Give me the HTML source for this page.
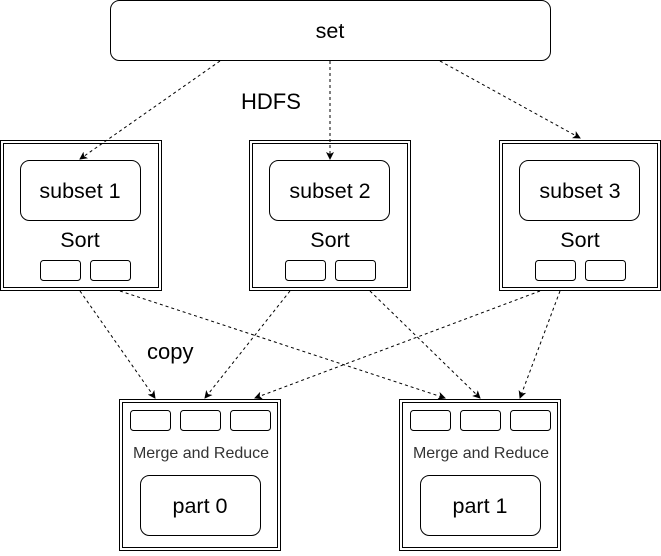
<!DOCTYPE html>
<html><head><style>body{margin:0;background:#fff}</style></head><body>
<svg width="661" height="551" xmlns="http://www.w3.org/2000/svg" font-family="Liberation Sans, sans-serif">
<defs><marker id="a" markerWidth="8" markerHeight="8" refX="7" refY="4" orient="auto" markerUnits="userSpaceOnUse"><path d="M0,0 L8,4 L0,8 L2,4 z" fill="#000"/></marker></defs>
<g fill="none" stroke="#000">
<rect x="110.5" y="0.5" width="440" height="60" rx="9"/>
<rect x="0.5" y="140.5" width="161" height="150"/><rect x="3.5" y="143.5" width="155" height="144"/>
<rect x="249.5" y="140.5" width="161" height="150"/><rect x="252.5" y="143.5" width="155" height="144"/>
<rect x="499.5" y="140.5" width="161" height="150"/><rect x="502.5" y="143.5" width="155" height="144"/>
<rect x="20.5" y="160.5" width="120" height="60" rx="9"/>
<rect x="269.5" y="160.5" width="120" height="60" rx="9"/>
<rect x="519.5" y="160.5" width="120" height="60" rx="9"/>
<rect x="40.5" y="260.5" width="40" height="20" rx="3"/><rect x="90.5" y="260.5" width="40" height="20" rx="3"/>
<rect x="285.5" y="260.5" width="40" height="20" rx="3"/><rect x="335.5" y="260.5" width="40" height="20" rx="3"/>
<rect x="535.5" y="260.5" width="40" height="20" rx="3"/><rect x="585.5" y="260.5" width="40" height="20" rx="3"/>
<rect x="119.5" y="399.5" width="161" height="151"/><rect x="122.5" y="402.5" width="155" height="145"/>
<rect x="399.5" y="399.5" width="161" height="151"/><rect x="402.5" y="402.5" width="155" height="145"/>
<rect x="130.5" y="410.5" width="40" height="20" rx="3"/><rect x="180.5" y="410.5" width="40" height="20" rx="3"/><rect x="230.5" y="410.5" width="40" height="20" rx="3"/>
<rect x="410.5" y="410.5" width="40" height="20" rx="3"/><rect x="460.5" y="410.5" width="40" height="20" rx="3"/><rect x="510.5" y="410.5" width="40" height="20" rx="3"/>
<rect x="140.5" y="475.5" width="120" height="60" rx="9"/>
<rect x="420.5" y="475.5" width="120" height="60" rx="9"/>
</g>
<g stroke="#000" stroke-dasharray="3,3" fill="none" marker-end="url(#a)">
<line x1="220" y1="61" x2="80" y2="159"/>
<line x1="330" y1="61" x2="330" y2="159"/>
<line x1="440" y1="61" x2="580" y2="138"/>
<line x1="80" y1="291" x2="155" y2="398"/>
<line x1="120" y1="291" x2="445" y2="398"/>
<line x1="290" y1="291" x2="205" y2="398"/>
<line x1="370" y1="291" x2="480" y2="398"/>
<line x1="540" y1="291" x2="255" y2="398"/>
<line x1="560" y1="291" x2="520" y2="398"/>
</g>
<g font-size="21.5" text-anchor="middle" fill="#000">
<text x="330" y="38">set</text>
<text x="80" y="198">subset 1</text><text x="330" y="198">subset 2</text><text x="580" y="198">subset 3</text>
<text x="80" y="247">Sort</text><text x="330" y="247">Sort</text><text x="580" y="247">Sort</text>
<text x="200" y="513">part 0</text><text x="480" y="513">part 1</text>
</g>
<g font-size="22" fill="#000"><text x="241" y="109">HDFS</text><text x="147" y="359">copy</text></g>
<g font-size="16" text-anchor="middle" fill="#333"><text x="201" y="458">Merge and Reduce</text><text x="481" y="458">Merge and Reduce</text></g>
</svg>
</body></html>
